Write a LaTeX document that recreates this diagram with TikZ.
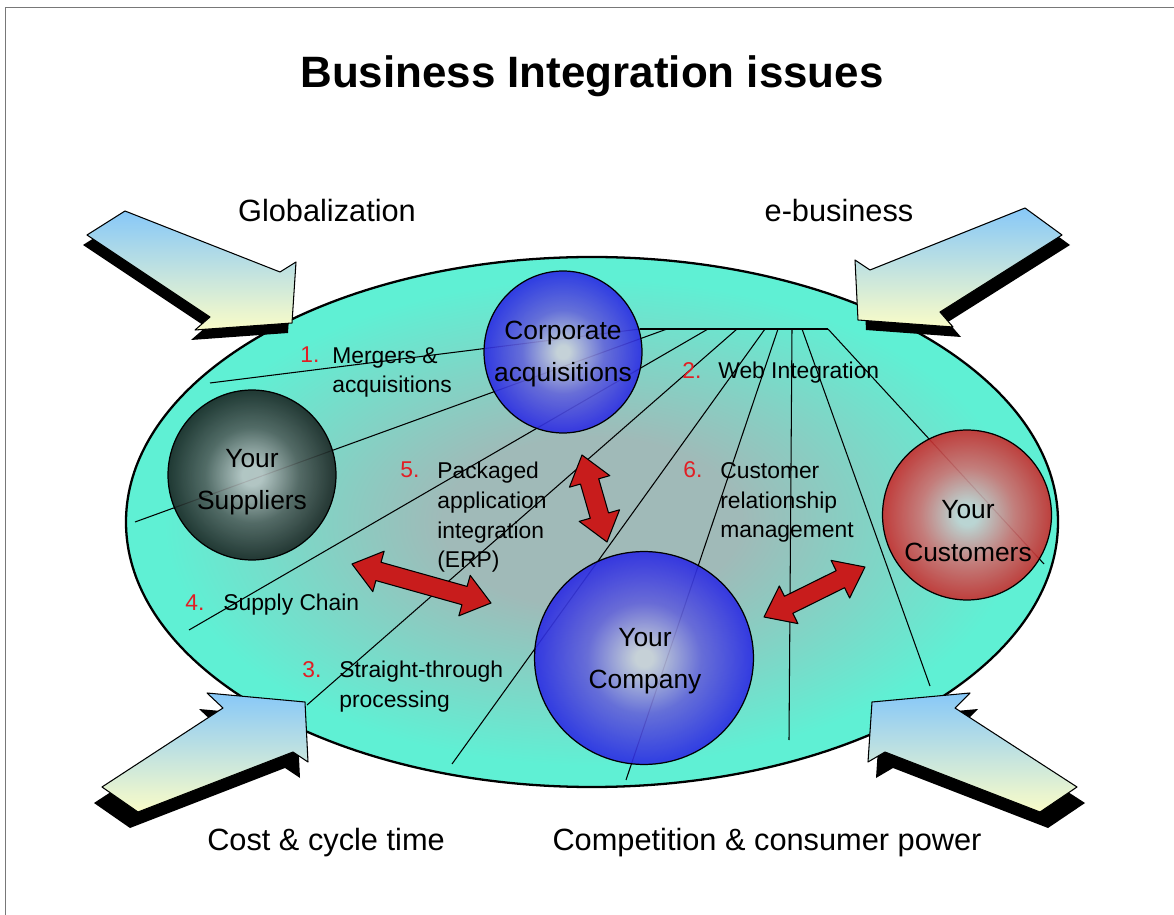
\documentclass[tikz,border=0pt]{standalone}
\usepackage{fontspec}
\setmainfont{Liberation Sans}
\usetikzlibrary{calc,shapes.geometric}

\definecolor{framegray}{RGB}{120,120,120}
\definecolor{lagoonmid}{RGB}{160,186,184}
\definecolor{lagoonedge}{RGB}{95,240,212}
\definecolor{skyblue}{RGB}{135,200,248}
\definecolor{paleyellow}{RGB}{250,252,200}
\definecolor{arrowred}{RGB}{200,28,28}
\definecolor{numred}{RGB}{226,30,36}
\definecolor{bluecore}{RGB}{205,210,218}
\definecolor{bluemid}{RGB}{100,100,218}
\definecolor{blueedge}{RGB}{42,42,228}
\definecolor{darkcore}{RGB}{185,195,195}
\definecolor{darkmid}{RGB}{80,95,92}
\definecolor{darkedge}{RGB}{25,38,35}
\definecolor{redcore}{RGB}{195,212,212}
\definecolor{redmid}{RGB}{205,115,115}
\definecolor{rededge}{RGB}{200,45,45}

\pgfdeclareradialshading{lagoon}{\pgfpoint{0bp}{0bp}}{color(0bp)=(lagoonmid); color(8bp)=(lagoonmid); color(23bp)=(lagoonedge); color(25bp)=(lagoonedge); color(50bp)=(lagoonedge)}
\pgfdeclareradialshading{blueball}{\pgfpoint{0bp}{0bp}}{color(0bp)=(bluecore); color(2bp)=(bluecore); color(13bp)=(bluemid); color(25bp)=(blueedge); color(50bp)=(blueedge)}
\pgfdeclareradialshading{darkball}{\pgfpoint{0bp}{0bp}}{color(0bp)=(darkcore); color(3bp)=(darkcore); color(14bp)=(darkmid); color(25bp)=(darkedge); color(50bp)=(darkedge)}
\pgfdeclareradialshading{redball}{\pgfpoint{0bp}{0bp}}{color(0bp)=(redcore); color(3bp)=(redcore); color(14bp)=(redmid); color(25bp)=(rededge); color(50bp)=(rededge)}

% red two-headed arrow between two named coordinates
\def\arrlen{0.55cm}
\def\arrhead{0.42cm}
\def\arrshaft{0.19cm}
\newcommand{\twoheaded}[2]{%
  \coordinate (#1h) at ($(#1)!\arrlen!(#2)$);
  \coordinate (#2h) at ($(#2)!\arrlen!(#1)$);
  \filldraw[redarrow] (#1) -- ($(#1h)!\arrhead!90:(#2)$) -- ($(#1h)!\arrshaft!90:(#2)$)
    -- ($(#2h)!\arrshaft!-90:(#1)$) -- ($(#2h)!\arrhead!-90:(#1)$) -- (#2)
    -- ($(#2h)!\arrhead!90:(#1)$) -- ($(#2h)!\arrshaft!90:(#1)$)
    -- ($(#1h)!\arrshaft!-90:(#2)$) -- ($(#1h)!\arrhead!-90:(#2)$) -- cycle;}

\begin{document}
\begin{tikzpicture}[x=0.02cm, y=-0.02cm, line join=round]
	\tikzstyle{fan}=[black, line width=0.6pt]
	\tikzstyle{sphere}=[ellipse, draw=black, line width=0.7pt, inner sep=0pt, fill opacity=0.9, shade]
	\tikzstyle{bigarrow}=[draw=black, line width=0.6pt, top color=skyblue, bottom color=paleyellow]
	\tikzstyle{redarrow}=[draw=black, line width=0.6pt, fill=arrowred]
	\tikzstyle{heading}=[font=\fontsize{25}{30}\selectfont\bfseries, anchor=base]
	\tikzstyle{force}=[font=\fontsize{17.5}{21}\selectfont, anchor=base]
	\tikzstyle{inside}=[font=\fontsize{15}{24}\selectfont, align=center]
	\tikzstyle{issue}=[font=\fontsize{13}{17}\selectfont, align=left, anchor=base west, inner sep=0pt]
	\tikzstyle{num}=[font=\fontsize{13}{17}\selectfont, text=numred, anchor=base west, inner sep=0pt]

	\useasboundingbox (0,0) rectangle (1174,915);
	\draw[framegray, line width=0.5pt] (5,915) -- (5,7) -- (1174,7);

	\node[heading] (title) at (592,88) {Business Integration issues};

	% the business
	\shade[shading=lagoon, draw=black, line width=1.3pt] (592,522) ellipse (466 and 265);

	% fan of issue lines
	\foreach \i/\sx/\ex/\ey in {1/640/210/383, 2/667/135/522, 3/708/189/630, 4/737/307/705,
	    5/765/452/764, 6/778/626/780, 7/792/789/740, 8/802/930/686, 9/828/1044/564} {
		\coordinate (fs\i) at (\sx,329);
		\coordinate (fe\i) at (\ex,\ey);
		\draw[fan] (fs\i) -- (fe\i);
	}
	\draw[fan] (fs1) -- (fs9);

	\node[sphere, shading=blueball, minimum width=3.16cm, minimum height=3.24cm] (corp) at (563,352) {};
	\node[sphere, shading=darkball, minimum width=3.36cm, minimum height=3.4cm] (sup) at (252,475) {};
	\node[sphere, shading=redball, minimum width=3.38cm, minimum height=3.4cm] (cust) at (967,515) {};
	\node[sphere, shading=blueball, minimum width=4.38cm, minimum height=4.26cm] (comp) at (644,658) {};

	\node[inside] (corptext) at (563,354) {Corporate\\acquisitions};
	\node[inside] (suptext) at (252,482) {Your\\Suppliers};
	\node[inside] (custtext) at (968,531) {Your\\Customers};
	\node[inside] (comptext) at (645,661) {Your\\Company};

	\coordinate (ra1) at (582,455);
	\coordinate (ra2) at (607,542);
	\coordinate (rb1) at (352,564);
	\coordinate (rb2) at (491,603);
	\coordinate (rc1) at (764,617);
	\coordinate (rc2) at (865,567);
	\twoheaded{ra1}{ra2}
	\twoheaded{rb1}{rb2}
	\twoheaded{rc1}{rc2}

	% outside forces
	\fill[shift={(-4,10)}] (125,211) -- (280,272) -- (296,262) -- (292,323) -- (195,330) -- (210,317) -- (87,235) -- cycle;
	\draw[bigarrow] (125,211) -- (280,272) -- (296,262) -- (292,323) -- (195,330) -- (210,317) -- (87,235) -- cycle;
	\fill[shift={(8,10)}] (1025,208) -- (1062,235) -- (940,312) -- (953,327) -- (858,320) -- (855,260) -- (870,270) -- cycle;
	\draw[bigarrow] (1025,208) -- (1062,235) -- (940,312) -- (953,327) -- (858,320) -- (855,260) -- (870,270) -- cycle;
	\fill[shift={(-8,16)}] (102,787) -- (223,708) -- (207,693) -- (305,702) -- (308,762) -- (293,752) -- (138,812) -- cycle;
	\draw[bigarrow] (102,787) -- (223,708) -- (207,693) -- (305,702) -- (308,762) -- (293,752) -- (138,812) -- cycle;
	\fill[shift={(8,16)}] (872,702) -- (970,693) -- (955,708) -- (1077,787) -- (1040,812) -- (885,752) -- (868,762) -- cycle;
	\draw[bigarrow] (872,702) -- (970,693) -- (955,708) -- (1077,787) -- (1040,812) -- (885,752) -- (868,762) -- cycle;

	\node[force] (glob) at (327,222) {Globalization};
	\node[force] (ebiz) at (839,222) {e-business};
	\node[force] (cost) at (326,850) {Cost \& cycle time};
	\node[force] (compet) at (767,850) {Competition \& consumer power};

	% multi-line labels sit on the baseline of their last line
	\node[num] (n1) at (300,363) {1.};
	\node[issue] (l1) at (332,393) {Mergers \&\\acquisitions};
	\node[num] (n2) at (682,379) {2.};
	\node[issue] (l2) at (718,379) {Web Integration};
	\node[num] (n3) at (302,677) {3.};
	\node[issue] (l3) at (339,707) {Straight-through\\processing};
	\node[num] (n4) at (185,611) {4.};
	\node[issue] (l4) at (223,611) {Supply Chain};
	\node[num] (n5) at (400,478) {5.};
	\node[issue] (l5) at (437,568) {Packaged\\application\\integration\\(ERP)};
	\node[num] (n6) at (683,478) {6.};
	\node[issue] (l6) at (720,538) {Customer\\relationship\\management};
\end{tikzpicture}
\end{document}
